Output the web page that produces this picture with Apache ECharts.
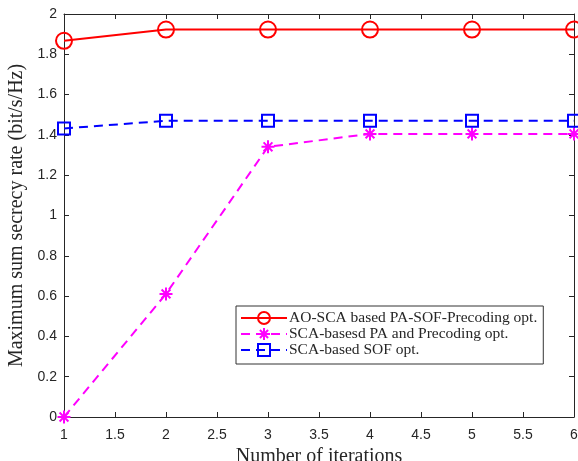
<!DOCTYPE html>
<html>
<head>
<meta charset="utf-8">
<script src="https://cdn.jsdelivr.net/npm/echarts@6/dist/echarts.min.js"></script>
<style>
  html, body { margin: 0; padding: 0; background: #fff; }
  #chart { width: 578px; height: 461px; }
</style>
</head>
<body>
<div id="chart"></div>
<script>
// iterations on the x axis
var iterations = [1, 2, 3, 4, 5, 6];
// series values
var aoScaPaSof = [1.867, 1.923, 1.923, 1.923, 1.923, 1.923];
var scaPaPrecoding = [0, 0.611, 1.341, 1.405, 1.405, 1.405];
var scaSof = [1.432, 1.470, 1.470, 1.470, 1.470, 1.470];
var seriesNames = [
    'AO-SCA based PA-SOF-Precoding opt.',
    'SCA-basesd PA and Precoding opt.',
    'SCA-based SOF opt.'
];

function pairs(ys) {
    return iterations.map(function (x, i) { return [x, ys[i]]; });
}

var axisColor = '#262626';
var serif = '"Liberation Serif", "DejaVu Serif", serif';
var sans = '"Liberation Sans", Arial, sans-serif';
var asterisk = 'path://M0,5L10,5M5,0L5,10M1.6,1.6L8.4,8.4M1.6,8.4L8.4,1.6';

var myChart = echarts.init(document.getElementById('chart'));
var option = {
    animation: false,
    backgroundColor: '#fff',
    grid: { left: 64, right: 4, top: 14, bottom: 44, outerBoundsMode: 'none', containLabel: false },
    legend: {
        left: 236,
        top: 306,
        width: 305,
        orient: 'vertical',
        itemGap: 0,
        itemWidth: 46,
        itemHeight: 15,
        padding: [4, 6, 6, 4],
        borderColor: '#333',
        borderWidth: 1,
        borderRadius: 0,
        backgroundColor: '#fff',
        textStyle: { fontFamily: serif, fontSize: 15.5, lineHeight: 15, color: axisColor, padding: [0, 0, 0, -3] },
        data: seriesNames
    },
    xAxis: [{
        type: 'value',
        min: 1, max: 6, interval: 0.5,
        name: 'Number of iterations',
        nameLocation: 'middle',
        nameGap: 26,
        nameTextStyle: { fontFamily: serif, fontSize: 20, color: axisColor },
        axisLine: { onZero: false, lineStyle: { color: axisColor, width: 1 } },
        axisTick: { inside: true, length: 5, lineStyle: { color: axisColor } },
        axisLabel: { fontFamily: sans, fontSize: 14, color: axisColor, margin: 11 },
        splitLine: { show: false }
    }, {
        type: 'value',
        position: 'top',
        min: 1, max: 6, interval: 0.5,
        axisLine: { show: true, onZero: false, lineStyle: { color: axisColor, width: 1 } },
        axisTick: { show: true, inside: true, length: 5, lineStyle: { color: axisColor } },
        axisLabel: { show: false },
        splitLine: { show: false }
    }],
    yAxis: [{
        type: 'value',
        min: 0, max: 2, interval: 0.2,
        name: 'Maximum sum secrecy rate (bit/s/Hz)',
        nameLocation: 'middle',
        nameGap: 34,
        nameTextStyle: { fontFamily: serif, fontSize: 20, color: axisColor },
        axisLine: { show: true, onZero: false, lineStyle: { color: axisColor, width: 1 } },
        axisTick: { show: true, inside: true, length: 5, lineStyle: { color: axisColor } },
        axisLabel: { fontFamily: sans, fontSize: 14, color: axisColor, margin: 7 },
        splitLine: { show: false }
    }, {
        type: 'value',
        position: 'right',
        min: 0, max: 2, interval: 0.2,
        axisLine: { show: true, onZero: false, lineStyle: { color: axisColor, width: 1 } },
        axisTick: { show: true, inside: true, length: 5, lineStyle: { color: axisColor } },
        axisLabel: { show: false },
        splitLine: { show: false }
    }],
    series: [{
        name: seriesNames[0],
        type: 'line',
        data: pairs(aoScaPaSof),
        symbol: 'circle',
        symbolSize: 16,
        lineStyle: { color: '#ff0000', width: 2 },
        itemStyle: { color: 'rgba(0,0,0,0)', borderColor: '#ff0000', borderWidth: 2 },
        z: 3
    }, {
        name: seriesNames[1],
        type: 'line',
        data: pairs(scaPaPrecoding),
        symbol: asterisk,
        symbolSize: 13,
        lineStyle: { color: '#ff00ff', width: 2, type: [9, 6] },
        itemStyle: { color: 'rgba(0,0,0,0)', borderColor: '#ff00ff', borderWidth: 2 },
        z: 2
    }, {
        name: seriesNames[2],
        type: 'line',
        data: pairs(scaSof),
        symbol: 'rect',
        symbolSize: 12,
        lineStyle: { color: '#0000ff', width: 2, type: [9, 6] },
        itemStyle: { color: 'rgba(0,0,0,0)', borderColor: '#0000ff', borderWidth: 2 },
        z: 2
    }]
};

option && myChart.setOption(option);
</script>
</body>
</html>
